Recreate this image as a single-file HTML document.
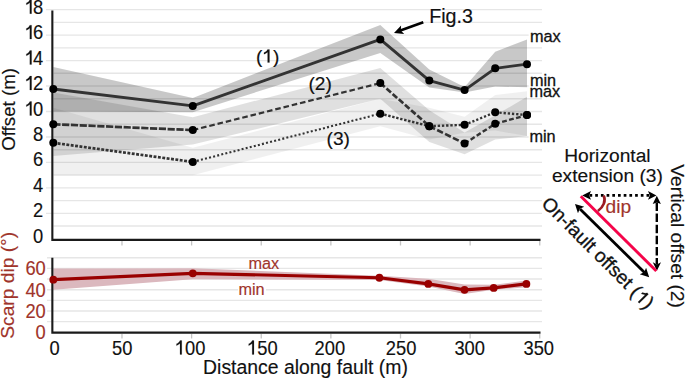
<!DOCTYPE html>
<html><head><meta charset="utf-8"><style>
html,body{margin:0;padding:0;background:#fff;}
svg{display:block;}
text{font-family:"Liberation Sans",sans-serif;}
</style></head><body>
<svg width="685" height="378" viewBox="0 0 685 378">
<rect width="685" height="378" fill="#fff"/>
<g stroke="#e6e6e6" stroke-width="1.4"><line x1="53.5" y1="226.07" x2="542" y2="226.07"/><line x1="46" y1="213.34" x2="542" y2="213.34"/><line x1="53.5" y1="200.61" x2="542" y2="200.61"/><line x1="46" y1="187.88" x2="542" y2="187.88"/><line x1="53.5" y1="175.15" x2="542" y2="175.15"/><line x1="46" y1="162.42" x2="542" y2="162.42"/><line x1="53.5" y1="149.69" x2="542" y2="149.69"/><line x1="46" y1="136.96" x2="542" y2="136.96"/><line x1="53.5" y1="124.23" x2="542" y2="124.23"/><line x1="46" y1="111.5" x2="542" y2="111.5"/><line x1="53.5" y1="98.77" x2="542" y2="98.77"/><line x1="46" y1="86.04" x2="542" y2="86.04"/><line x1="53.5" y1="73.31" x2="542" y2="73.31"/><line x1="46" y1="60.58" x2="542" y2="60.58"/><line x1="53.5" y1="47.85" x2="542" y2="47.85"/><line x1="46" y1="35.12" x2="542" y2="35.12"/><line x1="53.5" y1="22.39" x2="542" y2="22.39"/><line x1="46" y1="9.66" x2="542" y2="9.66"/></g>
<g stroke="#c4c4c4" stroke-width="1.3"><line x1="121.98" y1="241" x2="121.98" y2="245.5"/><line x1="191.61" y1="241" x2="191.61" y2="245.5"/><line x1="261.24" y1="241" x2="261.24" y2="245.5"/><line x1="330.87" y1="241" x2="330.87" y2="245.5"/><line x1="400.5" y1="241" x2="400.5" y2="245.5"/><line x1="470.13" y1="241" x2="470.13" y2="245.5"/><line x1="539.76" y1="241" x2="539.76" y2="245.5"/></g>
<polygon points="53.3,66.94 192.8,97.88 380.3,24.94 429.3,69.49 464.6,87.06 495.2,51.67 527,39.45 527,87.31 495.2,86.55 464.6,92.41 429.3,87.57 380.3,52.94 192.8,112.14 53.3,111.5" fill="#000" fill-opacity="0.215"/>
<polygon points="53.3,92.41 192.8,117.23 380.3,67.96 429.3,110.23 464.6,132.38 495.2,115.32 527,96.86 527,136.07 495.2,139.51 464.6,154.15 429.3,142.05 380.3,98.77 192.8,144.6 53.3,156.06" fill="#000" fill-opacity="0.12"/>
<polygon points="53.3,107.68 192.8,147.78 380.3,98.77 429.3,107.68 464.6,116.85 495.2,94.95 527,91.13 527,136.07 495.2,130.6 464.6,132.76 429.3,139.51 380.3,126.27 192.8,175.15 53.3,175.15" fill="#000" fill-opacity="0.06"/>
<path d="M52.35 10.5 V240.9 M51.35 239.85 H540.5" stroke="#1a1a1a" stroke-width="2.1" fill="none"/>
<polyline points="53.3,88.97 192.8,105.9 380.3,39.45 429.3,80.57 464.6,90.11 495.2,68.35 527,64.14" fill="none" stroke="#333" stroke-width="2.9" stroke-linejoin="round"/>
<line x1="53.3" y1="124.23" x2="192.8" y2="130.09" stroke="#333" stroke-width="2.7" stroke-dasharray="7.2 1.6"/><line x1="192.8" y1="130.09" x2="380.3" y2="83.11" stroke="#333" stroke-width="2.2" stroke-dasharray="5.6 2.9"/><line x1="380.3" y1="83.11" x2="429.3" y2="126.14" stroke="#333" stroke-width="2.7" stroke-dasharray="6 2.2"/><line x1="429.3" y1="126.14" x2="464.6" y2="143.58" stroke="#333" stroke-width="2.6" stroke-dasharray="6.4 2.4"/><line x1="464.6" y1="143.58" x2="495.2" y2="123.72" stroke="#333" stroke-width="2.4" stroke-dasharray="4.8 2.4"/><line x1="495.2" y1="123.72" x2="527" y2="115.06" stroke="#333" stroke-width="2.4" stroke-dasharray="4.8 2.4"/>
<line x1="53.3" y1="142.82" x2="192.8" y2="161.91" stroke="#333" stroke-width="2.7" stroke-dasharray="2.9 1.5"/><line x1="192.8" y1="161.91" x2="380.3" y2="113.66" stroke="#333" stroke-width="2.1" stroke-dasharray="2.0 2.2"/><line x1="380.3" y1="113.66" x2="429.3" y2="126.14" stroke="#333" stroke-width="2.4" stroke-dasharray="2.4 1.7"/><line x1="429.3" y1="126.14" x2="464.6" y2="124.87" stroke="#333" stroke-width="2.4" stroke-dasharray="2.4 1.8"/><line x1="464.6" y1="124.87" x2="495.2" y2="112.26" stroke="#333" stroke-width="2.3" stroke-dasharray="2.2 2.0"/><line x1="495.2" y1="112.26" x2="527" y2="115.06" stroke="#333" stroke-width="2.4" stroke-dasharray="2.3 1.9"/>
<g fill="#000"><circle cx="53.3" cy="88.97" r="4"/><circle cx="192.8" cy="105.9" r="4"/><circle cx="380.3" cy="39.45" r="4"/><circle cx="429.3" cy="80.57" r="4"/><circle cx="464.6" cy="90.11" r="4"/><circle cx="495.2" cy="68.35" r="4"/><circle cx="527" cy="64.14" r="4"/><circle cx="53.3" cy="124.23" r="4"/><circle cx="192.8" cy="130.09" r="4"/><circle cx="380.3" cy="83.11" r="4"/><circle cx="429.3" cy="126.14" r="4"/><circle cx="464.6" cy="143.58" r="4"/><circle cx="495.2" cy="123.72" r="4"/><circle cx="527" cy="115.06" r="4"/><circle cx="53.3" cy="142.82" r="4"/><circle cx="192.8" cy="161.91" r="4"/><circle cx="380.3" cy="113.66" r="4"/><circle cx="429.3" cy="126.14" r="4"/><circle cx="464.6" cy="124.87" r="4"/><circle cx="495.2" cy="112.26" r="4"/><circle cx="527" cy="115.06" r="4"/></g>
<g font-size="20.6" stroke-width="0.15" stroke="#111"><text transform="translate(32.9,242.8) scale(0.89,1)" fill="#111">0</text><text transform="translate(32.9,217.34) scale(0.89,1)" fill="#111">2</text><text transform="translate(32.9,191.88) scale(0.89,1)" fill="#111">4</text><text transform="translate(32.9,166.42) scale(0.89,1)" fill="#111">6</text><text transform="translate(32.9,140.96) scale(0.89,1)" fill="#111">8</text><path d="M31.61 115.50L29.82 115.50L29.82 104.44L29.38 104.86L28.75 105.34L27.94 105.86L27.05 106.33L26.33 106.65L26.33 104.82L27.23 104.39L28.12 103.80L28.93 103.03L29.47 102.20L29.82 101.52L31.61 101.52Z" fill="#111" stroke="#111" stroke-width="0.15"/><text transform="translate(32.9,115.5) scale(0.89,1)" fill="#111">0</text><path d="M31.61 90.04L29.82 90.04L29.82 78.98L29.38 79.40L28.75 79.88L27.94 80.40L27.05 80.87L26.33 81.19L26.33 79.36L27.23 78.93L28.12 78.34L28.93 77.57L29.47 76.74L29.82 76.06L31.61 76.06Z" fill="#111" stroke="#111" stroke-width="0.15"/><text transform="translate(32.9,90.04) scale(0.89,1)" fill="#111">2</text><path d="M31.61 64.58L29.82 64.58L29.82 53.52L29.38 53.94L28.75 54.42L27.94 54.94L27.05 55.41L26.33 55.73L26.33 53.90L27.23 53.47L28.12 52.88L28.93 52.11L29.47 51.28L29.82 50.60L31.61 50.60Z" fill="#111" stroke="#111" stroke-width="0.15"/><text transform="translate(32.9,64.58) scale(0.89,1)" fill="#111">4</text><path d="M31.61 39.12L29.82 39.12L29.82 28.06L29.38 28.48L28.75 28.96L27.94 29.48L27.05 29.95L26.33 30.27L26.33 28.44L27.23 28.01L28.12 27.42L28.93 26.65L29.47 25.82L29.82 25.14L31.61 25.14Z" fill="#111" stroke="#111" stroke-width="0.15"/><text transform="translate(32.9,39.12) scale(0.89,1)" fill="#111">6</text><path d="M31.61 13.66L29.82 13.66L29.82 2.60L29.38 3.02L28.75 3.50L27.94 4.02L27.05 4.49L26.33 4.81L26.33 2.98L27.23 2.55L28.12 1.96L28.93 1.19L29.47 0.36L29.82 -0.32L31.61 -0.32Z" fill="#111" stroke="#111" stroke-width="0.15"/><text transform="translate(32.9,13.66) scale(0.89,1)" fill="#111">8</text></g>
<g font-size="19.2" fill="#111" stroke="#111" stroke-width="0.15"><text transform="translate(14.6,150.8) rotate(-90)" font-size="18.7">Offset (m)</text><text transform="translate(255.9,62.5) scale(1,1)" fill="#111">(</text><path d="M269.49 62.50L267.62 62.50L267.62 52.19L267.15 52.58L266.49 53.03L265.65 53.52L264.71 53.95L263.96 54.25L263.96 52.54L264.90 52.14L265.84 51.60L266.68 50.88L267.24 50.11L267.62 49.47L269.49 49.47Z" fill="#111" stroke="#111" stroke-width="0.15"/><text transform="translate(272.97,62.5) scale(1,1)" fill="#111">)</text><text x="308.4" y="89.6">(2)</text><text x="326.5" y="145.1">(3)</text><text x="429.2" y="23" font-size="19.7">Fig.3</text></g>
<g fill="#fff"><rect x="528.6" y="31" width="16" height="12"/><rect x="528.6" y="74" width="16" height="24"/><rect x="528.6" y="131" width="16" height="12"/></g><g font-size="16.3" fill="#111" stroke="#111" stroke-width="0.3"><text x="529.9" y="41.7">max</text><text x="529.9" y="85.8">min</text><text x="529.4" y="96.7">max</text><text x="529.4" y="141.9">min</text></g>
<path d="M423.3 22.2 L399 31" stroke="#000" stroke-width="2.6" fill="none"/><path d="M394 32.9L401.1 25.52L400.77 30.44L404.18 33.98Z" fill="#000"/>
<g stroke="#e6e6e6" stroke-width="1.4"><line x1="47" y1="321.65" x2="542" y2="321.65"/><line x1="47" y1="311" x2="542" y2="311"/><line x1="47" y1="300.35" x2="542" y2="300.35"/><line x1="47" y1="289.7" x2="542" y2="289.7"/><line x1="47" y1="279.05" x2="542" y2="279.05"/><line x1="47" y1="268.4" x2="542" y2="268.4"/><line x1="47" y1="257.75" x2="542" y2="257.75"/></g>
<g stroke="#c4c4c4" stroke-width="1.3"><line x1="121.98" y1="334" x2="121.98" y2="338.5"/><line x1="191.61" y1="334" x2="191.61" y2="338.5"/><line x1="261.24" y1="334" x2="261.24" y2="338.5"/><line x1="330.87" y1="334" x2="330.87" y2="338.5"/><line x1="400.5" y1="334" x2="400.5" y2="338.5"/><line x1="470.13" y1="334" x2="470.13" y2="338.5"/><line x1="539.76" y1="334" x2="539.76" y2="338.5"/></g>
<polygon points="53.3,268.4 192.8,268.19 379.4,275.64 428.3,278.84 464.5,284.48 493.7,284.8 526.4,280.54 526.4,287.14 493.7,289.81 464.5,294.07 428.3,286.5 379.4,279.9 192.8,279.26 53.3,289.7" fill="#dbb8be"/>
<path d="M52.35 257.8 V333.6 M51.35 332.6 H540.5" stroke="#1a1a1a" stroke-width="2.1" fill="none"/>
<polyline points="53.3,279.69 192.8,273.3 379.4,277.77 428.3,283.95 464.5,289.81 493.7,287.89 526.4,283.95" fill="none" stroke="#990000" stroke-width="3.2" stroke-linejoin="round"/>
<g fill="#990000"><circle cx="53.3" cy="279.69" r="3.9"/><circle cx="192.8" cy="273.3" r="3.9"/><circle cx="379.4" cy="277.77" r="3.9"/><circle cx="428.3" cy="283.95" r="3.9"/><circle cx="464.5" cy="289.81" r="3.9"/><circle cx="493.7" cy="287.89" r="3.9"/><circle cx="526.4" cy="283.95" r="3.9"/></g>
<g font-size="20.6" stroke-width="0.15" stroke="#a0342b"><text transform="translate(35.6,339.3) scale(0.89,1)" fill="#a0342b">0</text><text transform="translate(25.41,318) scale(0.89,1)" fill="#a0342b">20</text><text transform="translate(25.41,296.7) scale(0.89,1)" fill="#a0342b">40</text><text transform="translate(25.41,275.4) scale(0.89,1)" fill="#a0342b">60</text></g>
<g fill="#a0342b" stroke="#a0342b" stroke-width="0.15"><text transform="translate(14.2,338.7) rotate(-90)" font-size="19.2">Scarp dip (°)</text><rect x="238" y="282" width="28" height="13" fill="#fff" stroke="none"/><g font-size="16.3"><text x="248.4" y="268.5">max</text><text x="238.4" y="295">min</text></g></g>
<g font-size="20.6" stroke-width="0.15" stroke="#111"><text transform="translate(49.5,354.5) scale(0.89,1)" fill="#111">0</text><text transform="translate(112.1,354.5) scale(0.89,1)" fill="#111">50</text><path d="M181.78 354.50L179.99 354.50L179.99 343.44L179.54 343.86L178.92 344.34L178.11 344.86L177.21 345.33L176.50 345.65L176.50 343.82L177.39 343.39L178.29 342.80L179.09 342.03L179.63 341.20L179.99 340.52L181.78 340.52Z" fill="#111" stroke="#111" stroke-width="0.15"/><text transform="translate(185.1,354.5) scale(0.89,1)" fill="#111">00</text><path d="M253.98 354.50L252.19 354.50L252.19 343.44L251.74 343.86L251.12 344.34L250.31 344.86L249.41 345.33L248.70 345.65L248.70 343.82L249.59 343.39L250.49 342.80L251.29 342.03L251.83 341.20L252.19 340.52L253.98 340.52Z" fill="#111" stroke="#111" stroke-width="0.15"/><text transform="translate(257.3,354.5) scale(0.89,1)" fill="#111">50</text><text transform="translate(314.56,354.5) scale(0.89,1)" fill="#111">200</text><text transform="translate(385.76,354.5) scale(0.89,1)" fill="#111">250</text><text transform="translate(454.41,354.5) scale(0.89,1)" fill="#111">300</text><text transform="translate(523.46,354.5) scale(0.89,1)" fill="#111">350</text></g>
<text x="305.5" y="374.3" font-size="19.4" text-anchor="middle" fill="#111" stroke="#111" stroke-width="0.15">Distance along fault (m)</text>
<g font-size="19.2" fill="#111" stroke="#111" stroke-width="0.15"><text x="607.4" y="162.3" text-anchor="middle">Horizontal</text><text x="607.4" y="181.6" text-anchor="middle">extension (3)</text><text transform="translate(671.2,164.3) rotate(90)">Vertical offset (2)</text><g transform="translate(540.6,204.7) rotate(45)" stroke-width="0.3"><text transform="translate(0,0) scale(1,1)" fill="#111">On-fault offset (</text><path d="M139.52 0.00L137.64 0.00L137.64 -10.31L137.17 -9.92L136.52 -9.47L135.67 -8.98L134.74 -8.55L133.99 -8.25L133.99 -9.96L134.92 -10.36L135.86 -10.90L136.71 -11.62L137.27 -12.39L137.64 -13.03L139.52 -13.03Z" fill="#111" stroke="#111" stroke-width="0.15"/><text transform="translate(143,0) scale(1,1)" fill="#111">)</text></g></g>
<text x="605.6" y="212.8" font-size="19.2" fill="#a0342b" stroke="#a0342b" stroke-width="0.15">dip</text>
<path d="M589.5 195.4 H649.5" stroke="#000" stroke-width="2.6" stroke-dasharray="2.7 3" fill="none"/><path d="M582.2 195.4L591 191L589.2 195.4L591 199.8Z M656.4 195.4L648 199.8L649.8 195.4L648 191Z" fill="#000"/><path d="M656.8 202.5 V264.5" stroke="#000" stroke-width="2.4" stroke-dasharray="8.5 2.6" fill="none"/><path d="M656.8 195.8L660.9 204L656.8 202.4L652.7 204Z M656.9 270.8L652.8 262.2L656.9 264.6L661 262.2Z" fill="#000"/>
<path d="M580 209 L644.5 272.5" stroke="#000" stroke-width="2.8" fill="none"/><path d="M575 204L584.28 206.84L579.84 208.78L577.96 213.24Z M649.2 277.2L639.77 274.22L644.22 272.28L646.1 267.82Z" fill="#000"/>
<path d="M580.8 196.2 L656.3 271" stroke="#f5044a" stroke-width="2.9" fill="none"/><path d="M603.6 195.6 C606.3 200.3, 603.4 207.2, 597.9 211" stroke="#9c1a22" stroke-width="2.7" fill="none"/>
</svg>
</body></html>
